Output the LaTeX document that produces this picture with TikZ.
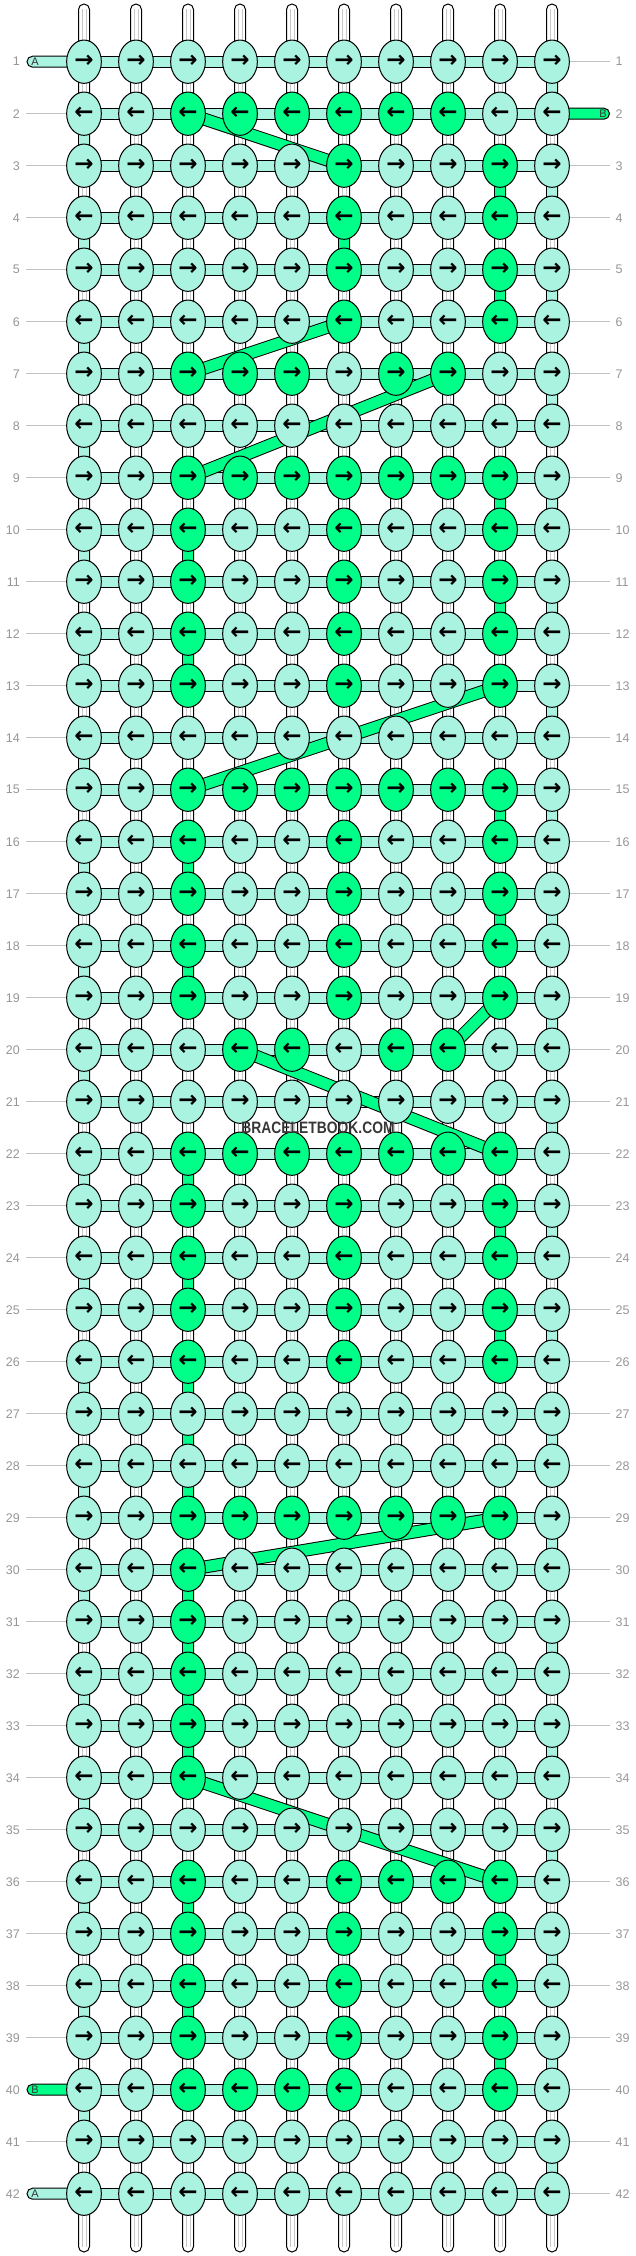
\documentclass[tikz,border=0pt]{standalone}
\usepackage{fontspec}
\usetikzlibrary{shapes.geometric,calc}
\newfontfamily\arrowfont{DejaVu Sans}
\newfontfamily\labfont{Liberation Sans}
\definecolor{kmint}{RGB}{169,243,224}
\definecolor{kgreen}{RGB}{0,255,136}
\definecolor{numgray}{RGB}{150,150,150}
\definecolor{linegray}{RGB}{195,195,195}
\definecolor{warpgray}{RGB}{200,200,200}
\definecolor{wmgray}{RGB}{55,55,55}
\pgfdeclarelayer{bg}\pgfdeclarelayer{mid}\pgfsetlayers{bg,mid,main}
\makeatletter
\newcommand\setrow[2]{\expandafter\def\csname grow#1\endcsname{,#2,}}
\newcommand\pickknot[2]{%
  \edef\pk@x{\noexpand\in@{,#2,}{\csname grow#1\endcsname}}\pk@x
  \ifin@\def\knotfill{kgreen}\else\def\knotfill{kmint}\fi
  \ifodd#1\relax\def\knotarrow{→}\else\def\knotarrow{←}\fi}
\makeatother
\setrow{2}{3,4,5,6,7,8}
\setrow{3}{6,9}\setrow{4}{6,9}\setrow{5}{6,9}\setrow{6}{6,9}
\setrow{7}{3,4,5,7,8}
\setrow{9}{3,4,5,6,7,8,9}
\setrow{10}{3,6,9}\setrow{11}{3,6,9}\setrow{12}{3,6,9}\setrow{13}{3,6,9}
\setrow{15}{3,4,5,6,7,8,9}
\setrow{16}{3,6,9}\setrow{17}{3,6,9}\setrow{18}{3,6,9}\setrow{19}{3,6,9}
\setrow{20}{4,5,7,8}
\setrow{22}{3,4,5,6,7,8,9}
\setrow{23}{3,6,9}\setrow{24}{3,6,9}\setrow{25}{3,6,9}\setrow{26}{3,6,9}
\setrow{29}{3,4,5,6,7,8,9}
\setrow{30}{3}\setrow{31}{3}\setrow{32}{3}\setrow{33}{3}\setrow{34}{3}
\setrow{36}{3,6,7,8,9}
\setrow{37}{3,6,9}\setrow{38}{3,6,9}\setrow{39}{3,6,9}
\setrow{40}{3,4,5,6,9}
\begin{document}
\begin{tikzpicture}[x=1pt,y=-1pt,
  knot/.style={ellipse,draw=black,line width=1pt,minimum width=34.7pt,minimum height=43.3pt,inner sep=0pt,
    font=\arrowfont\bfseries\fontsize{23}{23}\selectfont},
  warp/.style={draw=black,fill=white,line width=1pt,rounded corners=5.5pt},
  warpline/.style={draw=warpgray,line width=0.8pt},
  vseg/.style={draw=black,line width=1pt},
  hband/.style={draw=black,fill=kmint,line width=1pt},
  diag/.style={draw=black,line width=1pt,double=kgreen,double distance=11pt},
  tail/.style={draw=black,line width=1pt,rounded corners=5.5pt},
  taillab/.style={font=\labfont\fontsize{11}{12}\selectfont,text=black!80,inner sep=0pt},
  numlab/.style={font=\labfont\fontsize{12.5}{14}\selectfont,text=numgray,inner sep=0pt},
  rowline/.style={draw=linegray,line width=1pt},
  wm/.style={font=\labfont\bfseries\fontsize{16.5}{17}\selectfont,text=wmgray,xscale=0.84}]
\useasboundingbox (0,0) rectangle (636,2256);
% knots
\foreach \rr in {1,...,42}{
  \foreach \cc in {1,...,10}{
    \pickknot{\rr}{\cc}
    \node[knot,fill=\knotfill] (k-\rr-\cc) at ({84+52*(\cc-1)},{61.7+52*(\rr-1)}) {\knotarrow};
  }
}
% warp strands
\begin{pgfonlayer}{bg}
\foreach \cc in {1,...,10}{
  \pgfmathsetmacro\xx{84+52*(\cc-1)}
  \draw[warp] (\xx-5.5,4) rectangle (\xx+5.5,2252);
  \draw[warpline] (\xx-2,9) -- (\xx-2,2247);
  \draw[warpline] (\xx+2,9) -- (\xx+2,2247);
}
\end{pgfonlayer}
\begin{pgfonlayer}{mid}
% turns of thread A
\foreach \rr in {1,3,...,41}{
  \pgfmathtruncatemacro\nx{\rr+1}
  \path[vseg,fill=kmint] ($(k-\rr-10.center)+(-5.5,0)$) rectangle ($(k-\nx-10.center)+(5.5,0)$);
}
\foreach \rr in {2,4,...,40}{
  \pgfmathtruncatemacro\nx{\rr+1}
  \path[vseg,fill=kmint] ($(k-\rr-1.center)+(-5.5,0)$) rectangle ($(k-\nx-1.center)+(5.5,0)$);
}
% straight descents of thread B
\foreach \cc/\rr in {6/4, 9/3,9/5,9/9,9/11,9/15,9/17,9/23,9/25,9/37,9/39,
  3/10,3/12,3/16,3/18,3/22,3/24,3/26,3/27,3/28,3/30,3/31,3/32,3/33,3/36,3/38}{
  \pgfmathtruncatemacro\nx{\rr+1}
  \path[vseg,fill=kgreen] ($(k-\rr-\cc.center)+(-5.5,0)$) rectangle ($(k-\nx-\cc.center)+(5.5,0)$);
}
% row threads
\foreach \rr in {1,...,42}{
  \path[hband] ($(k-\rr-1.center)+(0,-5.5)$) rectangle ($(k-\rr-10.center)+(0,5.5)$);
}
% diagonal moves of thread B
\foreach \a/\b in {2-3/3-6, 6-6/7-3, 7-8/9-3, 13-9/15-3, 19-9/20-8, 20-4/22-9, 29-9/30-3, 34-3/36-9}{
  \draw[diag] (k-\a.center) -- (k-\b.center);
}
% row labels and lines
\foreach \rr in {1,...,42}{
  \node[numlab,anchor=east] (ln-\rr) at (20,{61.7+52*(\rr-1)}) {\rr};
  \node[numlab,anchor=west] (rn-\rr) at (615.5,{61.7+52*(\rr-1)}) {\rr};
}
\foreach \rr in {2,...,39,41}{
  \draw[rowline] ([xshift=6pt]ln-\rr.east) -- (k-\rr-1.west);
}
\foreach \rr in {1,3,4,...,42}{
  \draw[rowline] (k-\rr-10.east) -- ([xshift=-5.5pt]rn-\rr.west);
}
% thread ends
\coordinate (endA1) at (27,61.7);
\coordinate (endB2) at (609.5,113.7);
\coordinate (endB40) at (27,2089.7);
\coordinate (endA42) at (27,2193.7);
\draw[tail,fill=kmint] ($(endA1)+(0,-5.5)$) rectangle ($(k-1-1.center)+(0,5.5)$);
\draw[tail,fill=kgreen] ($(k-2-10.center)+(0,-5.5)$) rectangle ($(endB2)+(0,5.5)$);
\draw[tail,fill=kgreen] ($(endB40)+(0,-5.5)$) rectangle ($(k-40-1.center)+(0,5.5)$);
\draw[tail,fill=kmint] ($(endA42)+(0,-5.5)$) rectangle ($(k-42-1.center)+(0,5.5)$);
\node[taillab] (labA1) at (35,62) {A};
\node[taillab] (labB2) at (603,114) {B};
\node[taillab] (labB40) at (35,2090) {B};
\node[taillab] (labA42) at (35,2194) {A};
\end{pgfonlayer}
\node[wm] (wm) at (318,1128) {BRACELETBOOK.COM};
\end{tikzpicture}
\end{document}
